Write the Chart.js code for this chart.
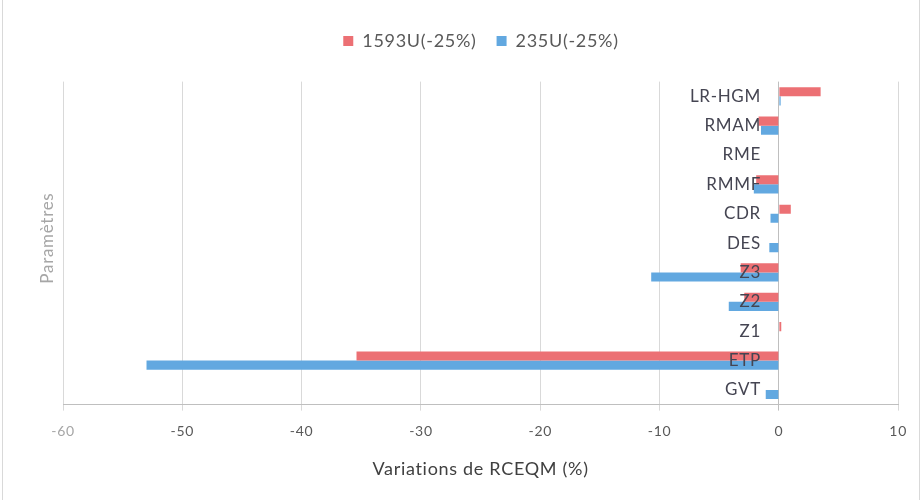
<!DOCTYPE html>
<html>
<head>
<meta charset="utf-8">
<script src="https://cdn.jsdelivr.net/npm/chart.js@4/dist/chart.umd.min.js"></script>
<style>
  html, body { margin: 0; padding: 0; background: #fff; }
  #wrap { position: relative; height: 500px; box-sizing: border-box; border-left: 1px solid #d9d9d9; border-right: 1px solid #d9d9d9; margin-left: 2px; width: 918px; }
</style>
</head>
<body>
<div id="wrap"><canvas id="chart" width="916" height="500"></canvas></div>
<script>
// Parameters (top to bottom) and the RCEQM variation for each sensitivity run
const categories = ['LR-HGM', 'RMAM', 'RME', 'RMMF', 'CDR', 'DES', 'Z3', 'Z2', 'Z1', 'ETP', 'GVT'];
const series1593U = [3.5, -1.7, 0, -1.9, 1.0, 0, -3.2, -2.9, 0.2, -35.4, 0];
const series235U  = [0.15, -1.5, 0, -2.1, -0.7, -0.8, -10.7, -4.2, 0, -53.0, -1.1];
const xTicks = [-60, -50, -40, -30, -20, -10, 0, 10];

const seriesNames = ['1593U(-25%)', '235U(-25%)'];
const FONT = "Lato, 'Open Sans', sans-serif";

// Slightly open letter spacing for every label drawn on the canvas
const spacing = {
  id: 'spacing',
  beforeUpdate(chart) { chart.ctx.letterSpacing = '0.7px'; },
  beforeDraw(chart) { chart.ctx.letterSpacing = '0.7px'; }
};

// Rotated axis caption at the far left of the plot
const sideTitle = {
  id: 'sideTitle',
  afterDraw(chart) {
    const { ctx, chartArea } = chart;
    ctx.save();
    ctx.translate(45, (chartArea.top + chartArea.bottom) / 2 - 5);
    ctx.rotate(-Math.PI / 2);
    ctx.fillStyle = '#a6a6a6';
    ctx.font = "17px " + FONT;
    ctx.textAlign = 'center';
    ctx.textBaseline = 'middle';
    ctx.fillText('Paramètres', 0, 0);
    ctx.restore();
  }
};

new Chart(document.getElementById('chart'), {
  type: 'bar',
  data: {
    labels: categories,
    datasets: [
      { label: seriesNames[0], data: series1593U, backgroundColor: '#ec7074' },
      { label: seriesNames[1], data: series235U, backgroundColor: '#62a8e0' }
    ]
  },
  options: {
    indexAxis: 'y',
    responsive: false,
    animation: false,
    layout: { padding: { left: 60, right: 20, top: 12, bottom: 16 } },
    datasets: { bar: { categoryPercentage: 0.62, barPercentage: 1.0 } },
    plugins: {
      legend: {
        position: 'top',
        labels: {
          boxWidth: 10, boxHeight: 10, padding: 20,
          color: '#595959',
          font: { family: FONT, size: 18 }
        }
      },
      // empty spacer between the legend and the plot
      title: { display: true, text: '', weight: 500, padding: 0, font: { size: 18 } },
      tooltip: { enabled: false }
    },
    scales: {
      x: {
        type: 'linear',
        min: -60, max: 10,
        afterBuildTicks(scale) { scale.ticks = xTicks.map(v => ({ value: v })); },
        grid: {
          color: (c) => c.tick && c.tick.value === 0 ? '#bfbfbf' : '#d9d9d9',
          tickLength: 6, drawTicks: true
        },
        border: { color: '#bfbfbf' },
        ticks: {
          color: (c) => c.tick && c.tick.value === -60 ? '#a6a6a6' : '#595959',
          font: { family: FONT, size: 14 },
          padding: 12
        },
        title: {
          display: true,
          text: 'Variations de RCEQM (%)',
          color: '#404040',
          font: { family: FONT, size: 18 },
          padding: { top: 7 }
        }
      },
      y: {
        type: 'category',
        position: { x: -1.5 },
        grid: { display: false, drawTicks: false },
        border: { display: false },
        ticks: {
          z: 1,
          color: '#454552',
          font: { family: FONT, size: 17 }
        }
      }
    }
  },
  plugins: [spacing, sideTitle]
});
</script>
</body>
</html>
